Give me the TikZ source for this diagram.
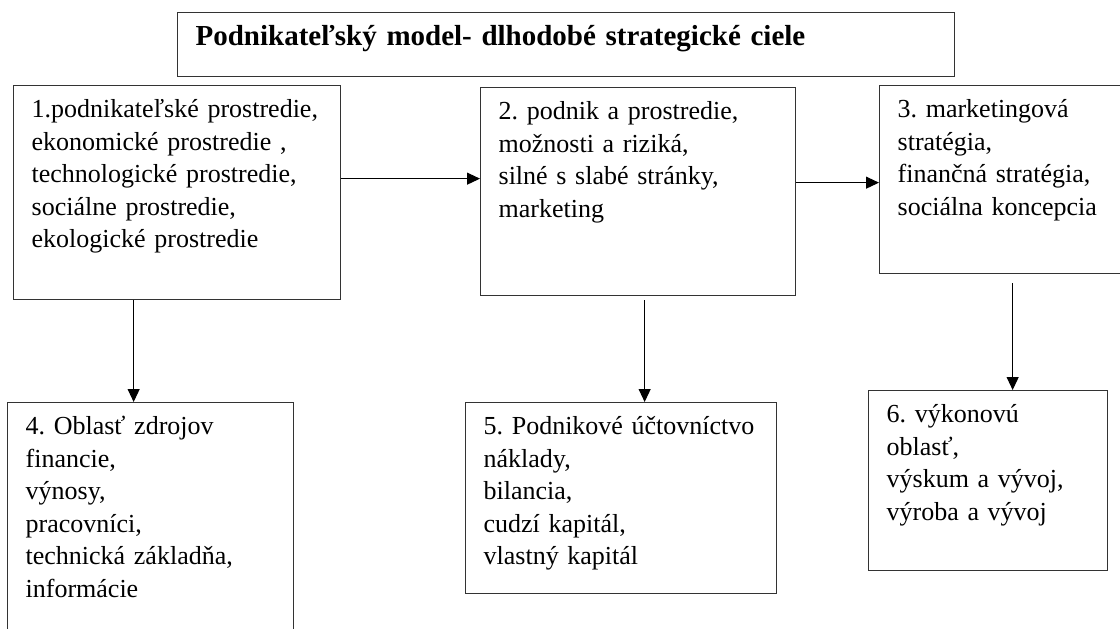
\documentclass[tikz,border=0pt]{standalone}
\usepackage{fontspec}
\setmainfont{Liberation Serif}
\usetikzlibrary{arrows.meta}
\begin{document}
\begin{tikzpicture}[x=1pt, y=-1pt,
        box/.style = {draw=black!80, line width=1.3pt, anchor=north west, align=left,
                      inner xsep=18pt, inner ysep=6pt, text height=26pt,
                      font={\fontsize{26}{32.5}\selectfont\frenchspacing\hyphenpenalty=10000 }},
        arr/.style = {-{Triangle[length=13pt,width=12pt]}, line width=1.1pt},
    ]
    \useasboundingbox (0,0) rectangle (1120,629);
    \clip (0,0) rectangle (1120,629);
    \node[box, text width=741pt, text height=27pt, text depth=25pt,
          font=\bfseries\fontsize{29}{35}\selectfont] (model) at (177,12)
          {Podnikateľský model- dlhodobé strategické ciele};
    \node[box, text width=291pt, text depth=176pt] (n1) at (13,85)
          {1.podnikateľské prostredie,\\ ekonomické prostredie ,\\ technologické prostredie,\\ sociálne prostredie,\\ ekologické prostredie};
    \node[box, text width=279pt, text depth=170pt] (n2) at (480,87)
          {2. podnik a prostredie,\\ možnosti a riziká,\\ silné s slabé stránky,\\ marketing};
    \node[box, text width=215pt, text depth=150pt] (n3) at (879,85)
          {3. marketingová\\ stratégia,\\ finančná stratégia,\\ sociálna koncepcia};
    \node[box, text width=250pt, text depth=200pt] (n4) at (7,402)
          {4. Oblasť zdrojov\\ financie,\\ výnosy,\\ pracovníci,\\ technická základňa,\\ informácie};
    \node[box, text width=275pt, text depth=153pt] (n5) at (465,402)
          {5. Podnikové účtovníctvo\\ náklady,\\ bilancia,\\ cudzí kapitál,\\ vlastný kapitál};
    \node[box, text width=203pt, text depth=142pt] (n6) at (868,390)
          {6. výkonovú\\ oblasť,\\ výskum a vývoj,\\ výroba a vývoj};
    \draw[arr] ([yshift=14pt]n1.east) -- ([yshift=14pt]n1.east -| n2.west);
    \draw[arr] ([yshift=9pt]n2.east) -- ([yshift=9pt]n2.east -| n3.west);
    \draw[arr] ([xshift=-43.5pt]n1.south) -- ([xshift=-43.5pt]n1.south |- n4.north);
    \draw[arr, shorten <=4pt] ([xshift=6.5pt]n2.south) -- ([xshift=6.5pt]n2.south |- n5.north);
    \draw[arr, shorten <=9pt] ([xshift=24.5pt]n6.north |- n3.south) -- ([xshift=24.5pt]n6.north);
\end{tikzpicture}
\end{document}
